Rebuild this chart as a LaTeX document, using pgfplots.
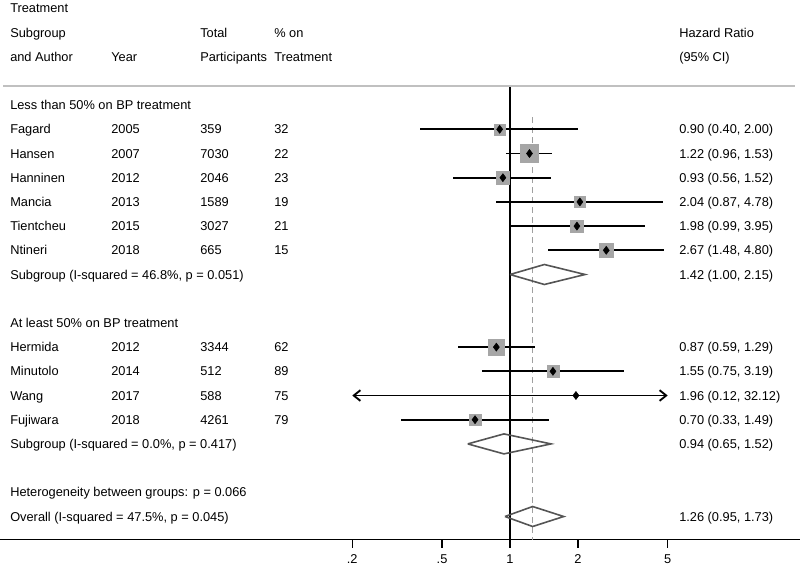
\documentclass[border=0pt]{standalone}
\usepackage{fontspec}
\setmainfont{Liberation Sans}
\usepackage{pgfplots}
\pgfplotsset{compat=1.18}
\usetikzlibrary{arrows.meta}
\definecolor{sqgray}{HTML}{A6A6A6}
\definecolor{dmgray}{HTML}{555555}
\definecolor{dashgray}{HTML}{A0A0A0}
\definecolor{rulegray}{HTML}{C0C0C0}
\newcommand{\rowfont}{\fontsize{9.6}{11.5}\selectfont}
% text placed by pixel position of the reference (x, row centre y)
\newcommand{\tx}[3]{\node[anchor=base west,inner sep=0pt,font=\rowfont] at ({#1*0.75pt},{(534.9-#2)*0.75pt}) {#3};}
\begin{document}
\begin{tikzpicture}
\useasboundingbox (0,-21.375pt) rectangle (600pt,404.625pt);
\begin{axis}[
  at={(0,0)}, anchor=south west,
  scale only axis, width=600pt, height=404.625pt,
  xmode=log, xmin=0.005496, xmax=19.28,
  ymin=-16.95, ymax=5.343,
  axis x line=bottom, axis y line=none,
  x axis line style={-, line width=1pt, black},
  xtick={0.2,0.5,1,2,5}, xticklabels={.2,.5,1,2,5},
  minor xtick={}, 
  tick align=outside, major tick length=6pt,
  x tick style={black, line width=1pt},
  xticklabel style={font=\rowfont, yshift=-2pt},
  /pgf/number format/assume math mode=true,
  clip=false,
]
% study weight squares
\addplot[only marks, mark=square*, mark size=4.1pt, sqgray, mark options={draw=none,fill=sqgray}] coordinates {(0.90,0)};
\addplot[only marks, mark=square*, mark size=6.75pt, sqgray, mark options={draw=none,fill=sqgray}] coordinates {(1.22,-1)};
\addplot[only marks, mark=square*, mark size=5.1pt, sqgray, mark options={draw=none,fill=sqgray}] coordinates {(0.93,-2)};
\addplot[only marks, mark=square*, mark size=4.3pt, sqgray, mark options={draw=none,fill=sqgray}] coordinates {(2.04,-3)};
\addplot[only marks, mark=square*, mark size=4.7pt, sqgray, mark options={draw=none,fill=sqgray}] coordinates {(1.98,-4)};
\addplot[only marks, mark=square*, mark size=5.1pt, sqgray, mark options={draw=none,fill=sqgray}] coordinates {(2.67,-5)};
\addplot[only marks, mark=square*, mark size=5.8pt, sqgray, mark options={draw=none,fill=sqgray}] coordinates {(0.87,-9)};
\addplot[only marks, mark=square*, mark size=4.5pt, sqgray, mark options={draw=none,fill=sqgray}] coordinates {(1.55,-10)};
\addplot[only marks, mark=square*, mark size=4.3pt, sqgray, mark options={draw=none,fill=sqgray}] coordinates {(0.70,-12)};
% null line and overall effect line
\addplot[black, line width=1.1pt] coordinates {(1,1.79) (1,-16.95)};
\addplot[dashgray, line width=0.9pt, dash pattern=on 4.5pt off 3pt] coordinates {(1.26,0.508) (1.26,-16.95)};
% confidence intervals
\addplot[black, line width=1.4pt] coordinates {(0.40,0) (2.00,0)};
\addplot[black, line width=1.4pt] coordinates {(0.96,-1) (1.53,-1)};
\addplot[black, line width=1.4pt] coordinates {(0.56,-2) (1.52,-2)};
\addplot[black, line width=1.4pt] coordinates {(0.87,-3) (4.78,-3)};
\addplot[black, line width=1.4pt] coordinates {(0.99,-4) (3.95,-4)};
\addplot[black, line width=1.4pt] coordinates {(1.48,-5) (4.80,-5)};
\addplot[black, line width=1.4pt] coordinates {(0.59,-9) (1.29,-9)};
\addplot[black, line width=1.4pt] coordinates {(0.75,-10) (3.19,-10)};
\addplot[black, line width=1.4pt, {Straight Barb[length=5pt,width=8pt,line width=1.4pt]}-{Straight Barb[length=5pt,width=8pt,line width=1.4pt]}] coordinates {(0.2,-11) (5,-11)};
\addplot[black, line width=1.4pt] coordinates {(0.33,-12) (1.49,-12)};
% point estimates
\addplot[only marks, mark=diamond*, mark size=3pt, black] coordinates {
 (0.90,0) (1.22,-1) (0.93,-2) (2.04,-3) (1.98,-4) (2.67,-5)
 (0.87,-9) (1.55,-10) (1.96,-11) (0.70,-12)};
% pooled diamonds
\addplot[dmgray, line width=1.2pt] coordinates {(1.00,-6) (1.42,-5.587) (2.15,-6) (1.42,-6.413) (1.00,-6)};
\addplot[dmgray, line width=1.2pt] coordinates {(0.65,-13) (0.94,-12.587) (1.52,-13) (0.94,-13.413) (0.65,-13)};
\addplot[dmgray, line width=1.2pt] coordinates {(0.95,-16) (1.26,-15.587) (1.73,-16) (1.26,-16.413) (0.95,-16)};
\end{axis}
% top rule
\draw[rulegray, line width=1pt] (2.25pt,340.125pt) -- (596.25pt,340.125pt);
% header
\tx{10}{8.3}{Treatment}
\tx{10}{32.5}{Subgroup}
\tx{200}{32.5}{Total}
\tx{274}{32.5}{\% on}
\tx{679}{32.5}{Hazard Ratio}
\tx{10}{56.7}{and Author}
\tx{111}{56.7}{Year}
\tx{200}{56.7}{Participants}
\tx{274}{56.7}{Treatment}
\tx{679}{56.7}{(95\% CI)}
% group 1
\tx{10}{105.1}{Less than 50\% on BP treatment}
\tx{10}{129.3}{Fagard}\tx{111}{129.3}{2005}\tx{200}{129.3}{359}\tx{274}{129.3}{32}\tx{679}{129.3}{0.90 (0.40, 2.00)}
\tx{10}{153.5}{Hansen}\tx{111}{153.5}{2007}\tx{200}{153.5}{7030}\tx{274}{153.5}{22}\tx{679}{153.5}{1.22 (0.96, 1.53)}
\tx{10}{177.7}{Hanninen}\tx{111}{177.7}{2012}\tx{200}{177.7}{2046}\tx{274}{177.7}{23}\tx{679}{177.7}{0.93 (0.56, 1.52)}
\tx{10}{201.9}{Mancia}\tx{111}{201.9}{2013}\tx{200}{201.9}{1589}\tx{274}{201.9}{19}\tx{679}{201.9}{2.04 (0.87, 4.78)}
\tx{10}{226.1}{Tientcheu}\tx{111}{226.1}{2015}\tx{200}{226.1}{3027}\tx{274}{226.1}{21}\tx{679}{226.1}{1.98 (0.99, 3.95)}
\tx{10}{250.3}{Ntineri}\tx{111}{250.3}{2018}\tx{200}{250.3}{665}\tx{274}{250.3}{15}\tx{679}{250.3}{2.67 (1.48, 4.80)}
\tx{10}{274.5}{Subgroup (I-squared = 46.8\%, p = 0.051)}\tx{679}{274.5}{1.42 (1.00, 2.15)}
% group 2
\tx{10}{322.9}{At least 50\% on BP treatment}
\tx{10}{347.1}{Hermida}\tx{111}{347.1}{2012}\tx{200}{347.1}{3344}\tx{274}{347.1}{62}\tx{679}{347.1}{0.87 (0.59, 1.29)}
\tx{10}{371.3}{Minutolo}\tx{111}{371.3}{2014}\tx{200}{371.3}{512}\tx{274}{371.3}{89}\tx{679}{371.3}{1.55 (0.75, 3.19)}
\tx{10}{395.5}{Wang}\tx{111}{395.5}{2017}\tx{200}{395.5}{588}\tx{274}{395.5}{75}\tx{679}{395.5}{1.96 (0.12, 32.12)}
\tx{10}{419.7}{Fujiwara}\tx{111}{419.7}{2018}\tx{200}{419.7}{4261}\tx{274}{419.7}{79}\tx{679}{419.7}{0.70 (0.33, 1.49)}
\tx{10}{443.9}{Subgroup (I-squared = 0.0\%, p = 0.417)}\tx{679}{443.9}{0.94 (0.65, 1.52)}
% overall
\tx{10}{492.3}{Heterogeneity between groups: p = 0.066}
\tx{10}{516.5}{Overall (I-squared = 47.5\%, p = 0.045)}\tx{679}{516.5}{1.26 (0.95, 1.73)}
\end{tikzpicture}
\end{document}
